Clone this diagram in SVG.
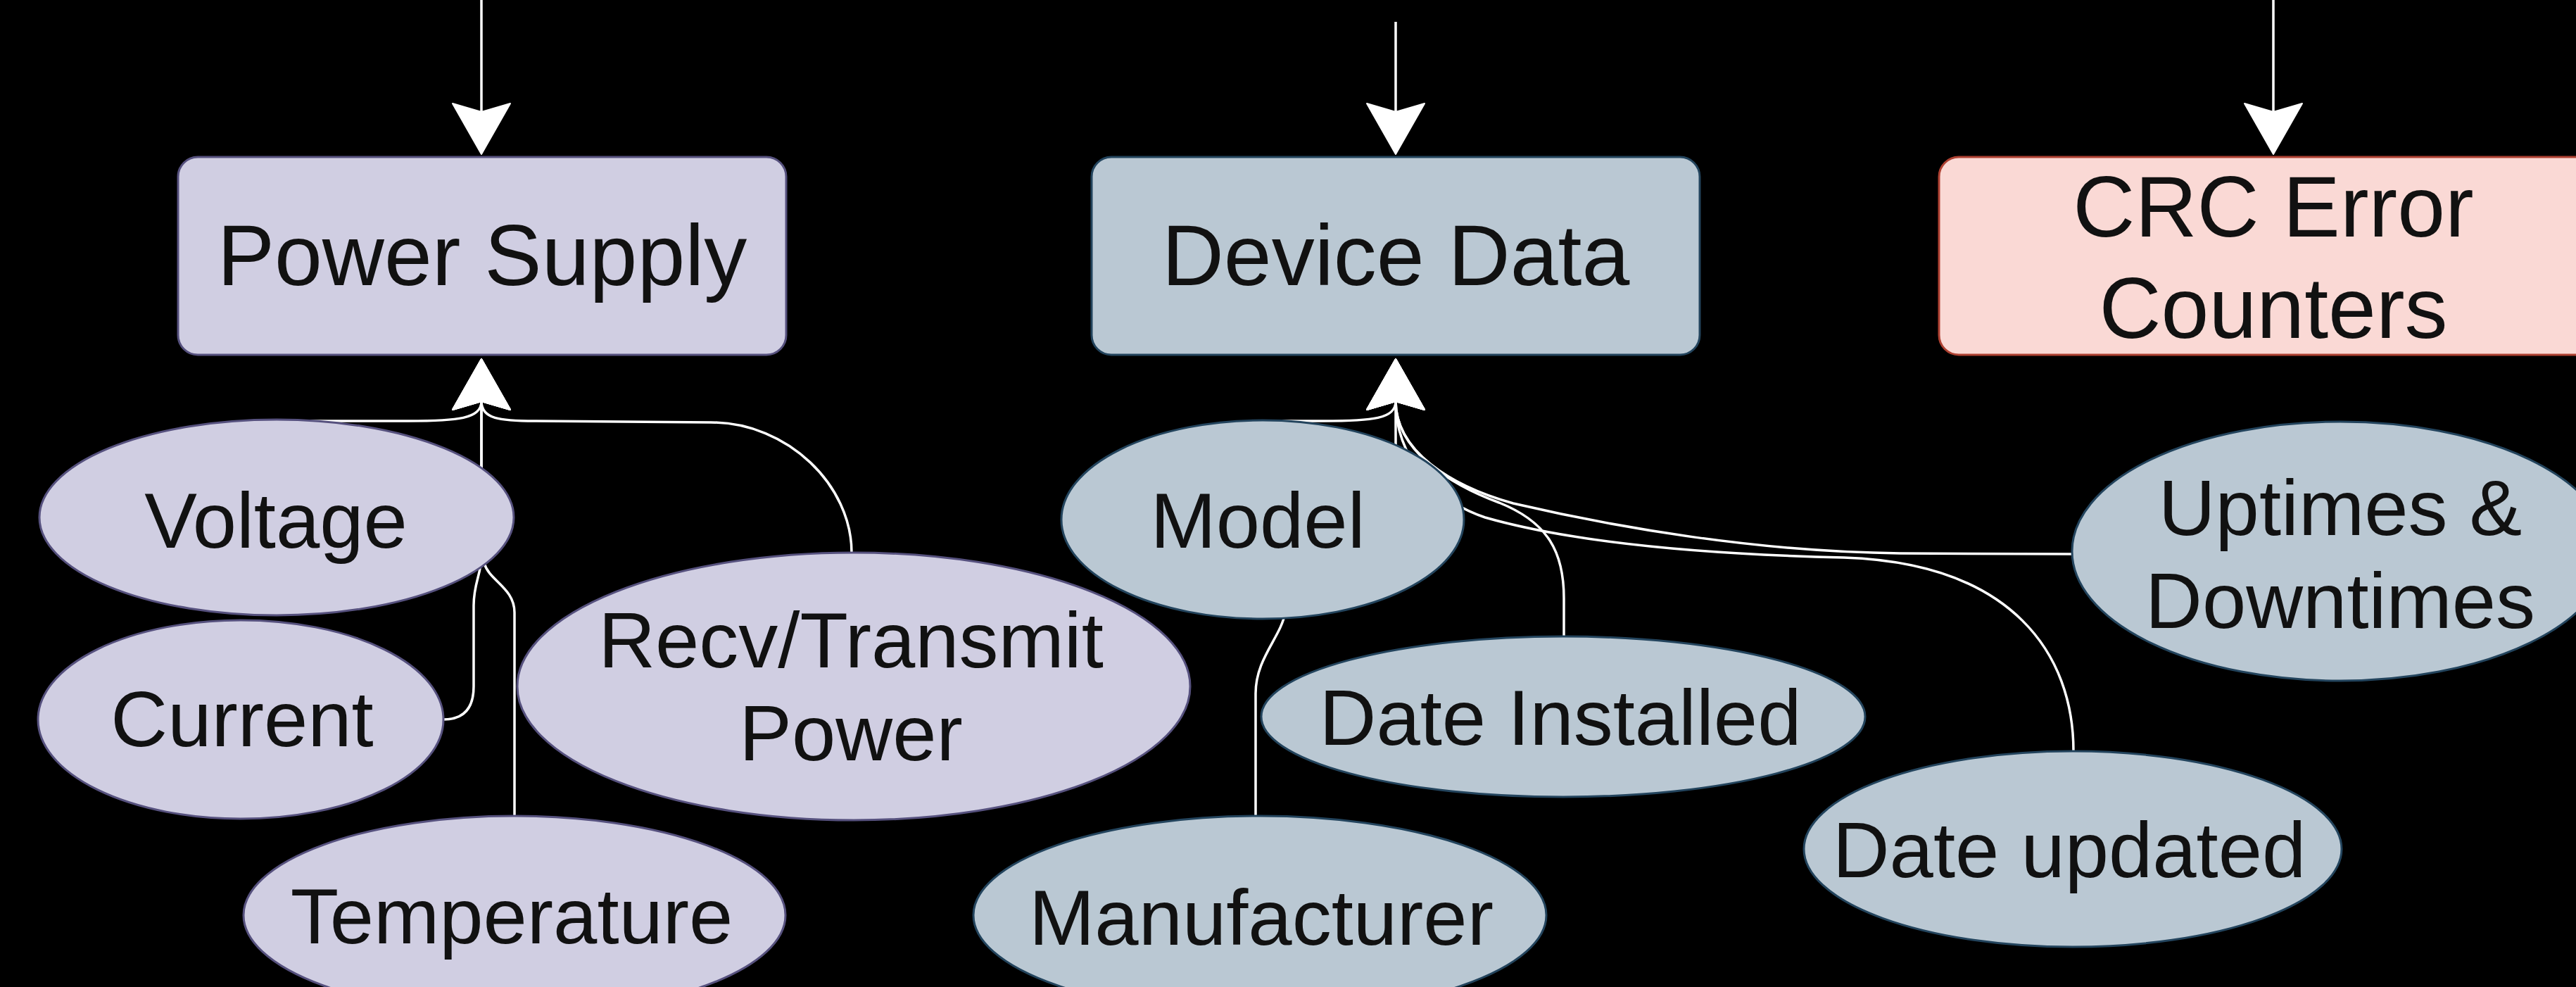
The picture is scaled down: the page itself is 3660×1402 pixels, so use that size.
<svg xmlns="http://www.w3.org/2000/svg" width="3660" height="1402" viewBox="0 0 3660 1402">
  <style>
    .purple { fill: #d0cee2; stroke: #56517e; stroke-width: 3; }
    .blue { fill: #bac8d3; stroke: #23445d; stroke-width: 3; }
    .red { fill: #fad9d5; stroke: #ae4132; stroke-width: 3; }
    .edge { fill: none; stroke: #ffffff; stroke-width: 3.5; }
    .t-rect { font-family: "Liberation Sans", Arial, Helvetica, sans-serif; font-size: 122px; fill: #111111; text-anchor: middle; }
    .t-ell { font-family: "Liberation Sans", Arial, Helvetica, sans-serif; font-size: 112px; fill: #111111; text-anchor: middle; }
  </style>
  <defs>
    <marker id="arrow" markerUnits="userSpaceOnUse" viewBox="0 0 72 82" markerWidth="72" markerHeight="82" refX="12" refY="41" orient="auto" overflow="visible">
      <path d="M0,0 L72,41 L0,82 L12,41 Z" fill="#ffffff" stroke="#ffffff" stroke-width="2" stroke-linejoin="round"/>
    </marker>
  </defs>

  <rect x="0" y="0" width="3660" height="1402" fill="#000000"/>

  <g id="connectors">
    <!-- incoming arrows from above -->
    <path class="edge" d="M684,0 L684,159" marker-end="url(#arrow)"/>
    <path class="edge" d="M1983,31 L1983,159" marker-end="url(#arrow)"/>
    <path class="edge" d="M3230,0 L3230,159" marker-end="url(#arrow)"/>

    <!-- Power Supply children -->
    <path class="edge" d="M393,598 L580,598 C650,598 684,595 684,570" marker-end="url(#arrow)"/>
    <path class="edge" d="M1210,785 C1210,690 1120,600 1010,600 L760,598 C710,598 684,595 684,570" marker-end="url(#arrow)"/>
    <path class="edge" d="M630,1022 C662,1022 673,1002 673,975 L673,860 C673,828 684,815 684,790 L684,570" marker-end="url(#arrow)"/>
    <path class="edge" d="M731,1159 L731,870 C731,835 695,825 688,800 C684,785 684,770 684,750 L684,570" marker-end="url(#arrow)"/>

    <!-- Device Data children -->
    <path class="edge" d="M1794,598 L1880,598 C1950,598 1983,595 1983,570" marker-end="url(#arrow)"/>
    <path class="edge" d="M1784,1159 L1784,985 C1784,935 1820,905 1826,870 L1983,640 L1983,570" marker-end="url(#arrow)"/>
    <path class="edge" d="M2222,904 L2222,850 C2222,785 2200,742 2130,714 C2060,688 1983,640 1983,570" marker-end="url(#arrow)"/>
    <path class="edge" d="M2944,787 L2700,786 C2500,784 2300,750 2150,715 C2060,690 1983,640 1983,570" marker-end="url(#arrow)"/>
    <path class="edge" d="M2946,1067 C2946,930 2860,800 2620,792 C2450,788 2250,775 2110,735 C2040,712 1983,650 1983,570" marker-end="url(#arrow)"/>
  </g>

  <g id="node-power-supply">
    <rect class="purple" x="253" y="223" width="864" height="281" rx="28" ry="28"/>
    <text class="t-rect" x="685" y="405">Power Supply</text>
  </g>
  <g id="node-device-data">
    <rect class="blue" x="1551" y="223" width="864" height="281" rx="28" ry="28"/>
    <text class="t-rect" x="1983" y="405">Device Data</text>
  </g>
  <g id="node-crc-error-counters">
    <rect class="red" x="2755" y="223" width="950" height="281" rx="28" ry="28"/>
    <text class="t-rect" x="3230" y="336">CRC Error</text>
    <text class="t-rect" x="3230" y="480">Counters</text>
  </g>

  <g id="node-voltage">
    <ellipse class="purple" cx="393" cy="735" rx="337" ry="139"/>
    <text class="t-ell" x="392" y="778">Voltage</text>
  </g>
  <g id="node-current">
    <ellipse class="purple" cx="342" cy="1022" rx="288" ry="141"/>
    <text class="t-ell" x="344" y="1060">Current</text>
  </g>
  <g id="node-temperature">
    <ellipse class="purple" cx="731" cy="1300" rx="385" ry="141"/>
    <text class="t-ell" x="727" y="1340">Temperature</text>
  </g>
  <g id="node-recv-transmit-power">
    <ellipse class="purple" cx="1213" cy="975" rx="478" ry="190"/>
    <text class="t-ell" x="1209" y="948">Recv/Transmit</text>
    <text class="t-ell" x="1209" y="1080">Power</text>
  </g>

  <g id="node-model">
    <ellipse class="blue" cx="1794" cy="738" rx="286" ry="141"/>
    <text class="t-ell" x="1787" y="778">Model</text>
  </g>
  <g id="node-date-installed">
    <ellipse class="blue" cx="2221" cy="1018" rx="429" ry="114"/>
    <text class="t-ell" x="2217" y="1058">Date Installed</text>
  </g>
  <g id="node-manufacturer">
    <ellipse class="blue" cx="1790" cy="1300" rx="407" ry="141"/>
    <text class="t-ell" x="1792" y="1342">Manufacturer</text>
  </g>
  <g id="node-uptimes-downtimes">
    <ellipse class="blue" cx="3325" cy="783" rx="381" ry="184"/>
    <text class="t-ell" x="3325" y="760">Uptimes &amp;</text>
    <text class="t-ell" x="3325" y="892">Downtimes</text>
  </g>
  <g id="node-date-updated">
    <ellipse class="blue" cx="2945" cy="1206" rx="382" ry="139"/>
    <text class="t-ell" x="2940" y="1246">Date updated</text>
  </g>
</svg>
